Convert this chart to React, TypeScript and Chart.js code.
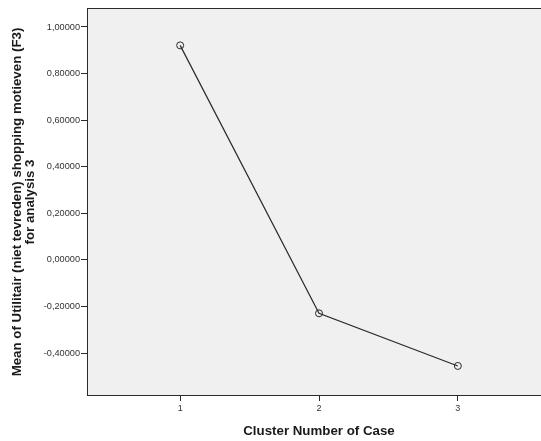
import React, { useEffect, useRef } from "react";
import { Chart, registerables } from "chart.js";

Chart.register(...registerables);

const clusters = [1, 2, 3];
const means = [0.921, -0.229, -0.455];
const yTicks = [-0.4, -0.2, 0, 0.2, 0.4, 0.6, 0.8, 1.0];
const xTicks = [1, 2, 3];
const yTitle = ["Mean of Utilitair (niet tevreden) shopping motieven (F3)", "for analysis 3"];
const xTitle = "Cluster Number of Case";

const FONT = 'Arial, "Liberation Sans", sans-serif';

const frame = {
  id: "frame",
  beforeDraw(chart: any) {
    const { ctx, chartArea: a } = chart;
    ctx.save();
    ctx.fillStyle = "#f0f0f0";
    ctx.fillRect(a.left, a.top, a.right - a.left, a.bottom - a.top);
    ctx.restore();
  },
  afterDatasetsDraw(chart: any) {
    const { ctx, chartArea: a } = chart;
    ctx.save();
    ctx.strokeStyle = "#2a2a2a";
    ctx.lineWidth = 1;
    ctx.strokeRect(Math.round(a.left) + 0.5, Math.round(a.top) + 0.5, a.right - a.left + 5, Math.round(a.bottom - a.top) - 1);
    ctx.restore();
  },
};

export default function App() {
  const ref = useRef<HTMLCanvasElement>(null);
  useEffect(() => {
    if (!ref.current) return;
    const chart = new Chart(ref.current, {
      type: "line",
      data: {
        datasets: [
          {
            data: clusters.map((c, i) => ({ x: c, y: means[i] })),
            borderColor: "#2a2a2a",
            borderWidth: 1.2,
            pointRadius: 3.5,
            pointBorderWidth: 1,
            pointBorderColor: "#2a2a2a",
            pointBackgroundColor: "rgba(0,0,0,0)",
            tension: 0,
          },
        ],
      },
      options: {
        animation: false,
        responsive: false,
        maintainAspectRatio: false,
        layout: { padding: { top: 8, left: 0, right: 0, bottom: 0 } },
        plugins: { legend: { display: false }, tooltip: { enabled: false } },
        scales: {
          x: {
            type: "linear",
            min: 0.329,
            max: 3.671,
            afterBuildTicks: (s: any) => {
              s.ticks = xTicks.map((v) => ({ value: v }));
            },
            afterFit: (s: any) => {
              s.height = 45;
            },
            grid: { drawOnChartArea: false, drawTicks: true, tickLength: 5, tickColor: "#2a2a2a" },
            border: { display: false },
            ticks: {
              font: { family: FONT, size: 9 },
              color: "#333",
              padding: 2,
              maxRotation: 0,
              callback: (v: any) => String(v),
            },
            title: {
              display: true,
              text: xTitle,
              font: { family: FONT, size: 13.3, weight: "bold", lineHeight: 1.0 },
              color: "#1a1a1a",
              padding: { top: 0, bottom: 3.5 },
            },
          },
          y: {
            type: "linear",
            min: -0.584,
            max: 1.0815,
            afterBuildTicks: (s: any) => {
              s.ticks = yTicks.map((v) => ({ value: v }));
            },
            afterFit: (s: any) => {
              s.width = 87;
            },
            grid: { drawOnChartArea: false, drawTicks: true, tickLength: 6, tickColor: "#2a2a2a" },
            border: { display: false },
            ticks: {
              font: { family: FONT, size: 9.2 },
              color: "#333",
              padding: 1,
              callback: (v: any) => Number(v).toFixed(5).replace(".", ","),
            },
            title: {
              display: true,
              text: yTitle,
              font: { family: FONT, size: 13.3, weight: "bold", lineHeight: 0.98 },
              color: "#1a1a1a",
              padding: { top: 11, bottom: 0 },
            },
          },
        },
      },
      plugins: [frame],
    });
    return () => chart.destroy();
  }, []);
  return (
    <div style={{ position: "fixed", left: 0, top: 0, width: 541, height: 441, overflow: "hidden", background: "#fff" }}>
      <canvas ref={ref} width={556} height={441} style={{ display: "block", width: 556, height: 441 }} />
    </div>
  );
}
